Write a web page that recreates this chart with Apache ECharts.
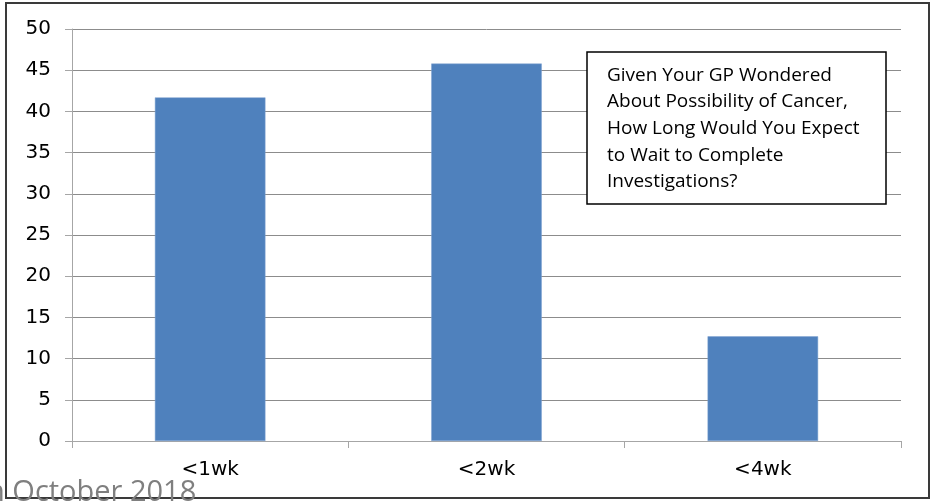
<!DOCTYPE html>
<html>
<head>
<meta charset="utf-8">
<script src="https://cdn.jsdelivr.net/npm/echarts@6/dist/echarts.min.js"></script>
<style>
  html, body { margin: 0; padding: 0; background: #ffffff; }
  #chart { width: 930px; height: 502px; }
</style>
</head>
<body>
<div id="chart"></div>
<script>
// Expected wait to complete investigations (percent of respondents)
const categories = ['<1wk', '<2wk', '<4wk'];
const percentages = [41.7, 45.8, 12.7];
const yTicks = { min: 0, max: 50, interval: 5 };
const noteLines = [
  'Given Your GP Wondered',
  'About Possibility of Cancer,',
  'How Long Would You Expect',
  'to Wait to Complete',
  'Investigations?'
];
const footerText = 'h October 2018';

const chart = echarts.init(document.getElementById('chart'), null, { renderer: 'canvas' });

const axisFont = { fontFamily: 'DejaVu Sans', fontSize: 20, color: '#000000' };

chart.setOption({
  animation: false,
  backgroundColor: '#ffffff',
  grid: { left: 72, right: 29, top: 29, bottom: 61, containLabel: false },
  xAxis: {
    type: 'category',
    data: categories,
    boundaryGap: true,
    axisLine: { show: true, lineStyle: { color: '#a6a6a6', width: 1 } },
    axisTick: { show: true, alignWithLabel: false, length: 7, lineStyle: { color: '#a6a6a6' } },
    axisLabel: Object.assign({ margin: 19 }, axisFont),
    splitLine: { show: false }
  },
  yAxis: {
    type: 'value',
    min: yTicks.min,
    max: yTicks.max,
    interval: yTicks.interval,
    axisLine: { show: true, lineStyle: { color: '#a6a6a6', width: 1 } },
    axisTick: { show: true, length: 7, lineStyle: { color: '#a6a6a6' } },
    axisLabel: Object.assign({ margin: 21 }, axisFont),
    splitLine: { show: true, lineStyle: { color: '#8c8c8c', width: 1 } }
  },
  series: [{
    type: 'bar',
    data: percentages,
    barWidth: '40%',
    itemStyle: { color: '#4f81bd', borderColor: '#7ea3d1', borderWidth: 0.5 }
  }],
  graphic: [
    {
      type: 'rect',
      shape: { x: 6, y: 3, width: 923, height: 495 },
      style: { fill: 'none', stroke: '#3a3a3a', lineWidth: 2 },
      z: 100
    },
    {
      type: 'rect',
      shape: { x: 587, y: 52, width: 299, height: 152 },
      style: { fill: '#ffffff', stroke: '#000000', lineWidth: 1.5 },
      z: 50
    },
    {
      type: 'text',
      x: 607,
      y: 62,
      z: 51,
      style: {
        text: noteLines.join('\n'),
        fontFamily: 'Open Sans',
        fontSize: 19,
        lineHeight: 26.6,
        fill: '#000000',
        align: 'left',
        verticalAlign: 'top'
      }
    },
    {
      type: 'text',
      x: -13,
      y: 493,
      z: 110,
      style: {
        text: footerText,
        fontFamily: 'Open Sans',
        fontSize: 29,
        fill: '#7f7f7f',
        align: 'left',
        verticalAlign: 'middle'
      }
    }
  ]
});
</script>
</body>
</html>
